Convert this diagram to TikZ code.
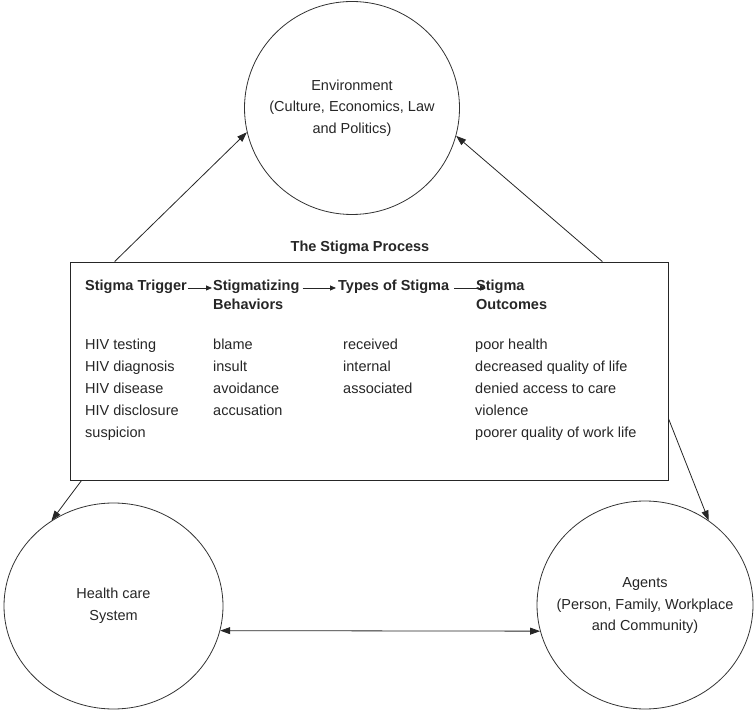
\documentclass[tikz,border=0pt]{standalone}
\usepackage{fontspec}
\setmainfont{Liberation Sans}
\usetikzlibrary{arrows.meta,calc,shapes.geometric}
\begin{document}
\begin{tikzpicture}[x=1pt,y=1pt,
  txt/.style={font=\fontsize{14.5}{21.5}\selectfont, text=black!85, inner sep=0pt},
  hdr/.style={txt, font=\fontsize{14.5}{21.5}\selectfont\bfseries, anchor=base west},
  item/.style={txt, anchor=base west},
  oval/.style={draw=black!80, line width=0.8pt, ellipse, inner sep=0pt},
  bigarrow/.style={line width=0.8pt, draw=black!85, -{Triangle[length=10pt,width=7pt]}},
  botharrow/.style={line width=0.8pt, draw=black!85, {Triangle[length=10pt,width=7pt]}-{Triangle[length=10pt,width=7pt]}},
  smallarrow/.style={line width=0.8pt, draw=black!85, -{Triangle[length=6pt,width=5pt]}}]
\useasboundingbox (0,0) rectangle (754,709);

% circles
\node[oval, minimum width=215pt, minimum height=213pt] (env) at (352,601) {};
\node[oval, minimum width=219pt, minimum height=206pt] (hc) at (113.5,103) {};
\node[oval, minimum width=216pt, minimum height=208pt] (ag) at (645,104) {};

\node[txt, align=center] (envT) at (352,601) {Environment\\(Culture, Economics, Law\\and Politics)};
\node[txt, align=center] (hcT) at (113.5,103) {Health care\\System};
\node[txt, align=center] (agT) at (645,103) {Agents\\(Person, Family, Workplace\\and Community)};

% process box
\node[draw=black!85, line width=0.8pt, minimum width=598pt, minimum height=218pt, inner sep=0pt] (box) at (369,338) {};
\node[hdr, anchor=base] (title) at (360,457) {The Stigma Process};

\node[hdr] (trig) at (85,418) {Stigma Trigger};
\node[hdr] (beh1) at (213,418) {Stigmatizing};
\node[hdr] (beh2) at (213,399) {Behaviors};
\node[hdr] (types) at (338,418) {Types of Stigma};
\node[hdr] (out1) at (476,418) {Stigma};
\node[hdr] (out2) at (476,399) {Outcomes};

\draw[smallarrow] ([xshift=1pt,yshift=3pt]trig.base east) -- ([xshift=-1pt,yshift=3pt]beh1.base west);
\draw[smallarrow] ([xshift=3pt,yshift=3pt]beh1.base east) -- ([xshift=-2pt,yshift=3pt]types.base west);
\draw[smallarrow] ([xshift=5pt,yshift=3pt]types.base east) -- ([xshift=10pt,yshift=3pt]out1.base west);

\foreach \t [count=\i] in {HIV testing, HIV diagnosis, HIV disease, HIV disclosure, suspicion}
  \node[item] (a\i) at (85, 382-22.2*\i) {\t};
\foreach \t [count=\i] in {blame, insult, avoidance, accusation}
  \node[item] (b\i) at (213, 382-22.2*\i) {\t};
\foreach \t [count=\i] in {received, internal, associated}
  \node[item] (c\i) at (343, 382-22.2*\i) {\t};
\foreach \t [count=\i] in {poor health, decreased quality of life, denied access to care, violence, poorer quality of work life}
  \node[item] (d\i) at (475, 382-22.2*\i) {\t};

% connectors
\draw[bigarrow] ([xshift=45pt]box.north west) -- (env.193);
\draw[bigarrow] ([xshift=-66pt]box.north east) -- (env.-15);
\draw[bigarrow] ([xshift=12pt]box.south west) -- (hc.126);
\draw[bigarrow] ([yshift=62pt]box.south east) -- (ag.53);
\draw[botharrow] (hc.-13.8) -- (ag.194.5);
\end{tikzpicture}
\end{document}
